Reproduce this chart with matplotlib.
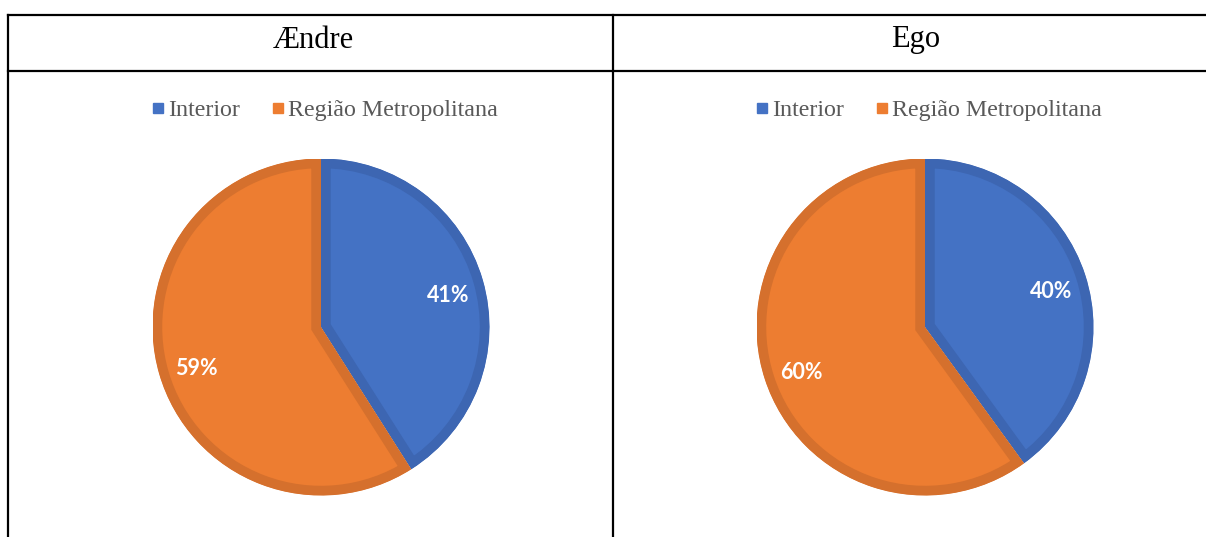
import matplotlib.pyplot as plt
from matplotlib.lines import Line2D

# Data
titles = ["Ændre", "Ego"]
categories = ["Interior", "Região Metropolitana"]
values = [[41, 59], [40, 60]]

fill_colors = ["#4472C4", "#ED7D31"]
edge_colors = ["#3D66B2", "#D5702D"]

W, H = 1206, 537
fig = plt.figure(figsize=(W / 100, H / 100), dpi=100)

# table lines (pixel coordinates, origin top-left)
def hline(y, x0, x1):
    fig.add_artist(Line2D([x0 / W, x1 / W], [1 - y / H, 1 - y / H], color="black", lw=1.6))

def vline(x, y0, y1):
    fig.add_artist(Line2D([x / W, x / W], [1 - y0 / H, 1 - y1 / H], color="black", lw=1.6))

hline(15, 8, W)
hline(71, 8, W)
vline(8, 15, H)
vline(613, 15, H)

centers = [(321, 327), (925, 327)]
title_x = [313, 916]
radius = 168.5

for i, (cx, cy) in enumerate(centers):
    fig.text(title_x[i] / W, 1 - 40 / H, titles[i], ha="center", va="center",
             fontsize=22, family="Liberation Serif", color="black")

    ax = fig.add_axes([(cx - radius) / W, 1 - (cy + radius) / H, 2 * radius / W, 2 * radius / H])
    wedges, texts, autotexts = ax.pie(values[i], colors=fill_colors, startangle=90,
                                      counterclock=False, autopct="%1.0f%%", pctdistance=0.78,
                                      wedgeprops=dict(linewidth=14))
    for w, ec in zip(wedges, edge_colors):
        w.set_edgecolor(ec)
        w.set_clip_on(True)
        w.set_clip_path(w)
    for t in autotexts:
        t.set_color("white")
        t.set_fontsize(15.5)
        t.set_fontweight("bold")
        t.set_family("Lato")
        tx, ty = t.get_position()
        t.set_position((tx + 0.008, ty - 0.03))
    ax.set_xlim(-1, 1)
    ax.set_ylim(-1, 1)
    ax.set_aspect("equal")
    ax.axis("off")

    handles = [Line2D([], [], marker="s", linestyle="none", markersize=7.5,
                      markerfacecolor=c, markeredgecolor=c) for c in fill_colors]
    fig.legend(handles, categories, loc="center", bbox_to_anchor=((cx + 4) / W, 1 - 110 / H),
               ncol=2, frameon=False, handlelength=0.5, handletextpad=0.2, columnspacing=1.3,
               prop={"family": "Liberation Serif", "size": 17.3}, labelcolor="#595959")

fig.savefig("out.png", dpi=100)
